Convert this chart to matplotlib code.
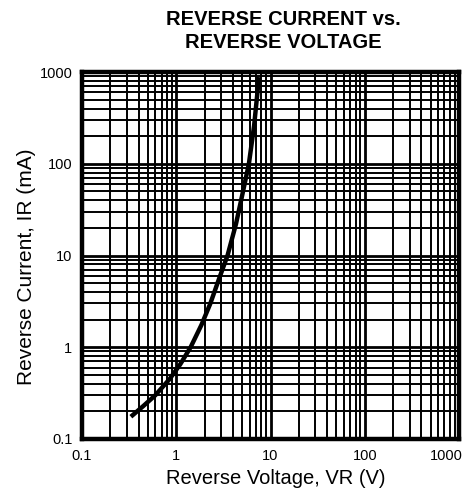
import numpy as np
import matplotlib
matplotlib.use("Agg")
import matplotlib.pyplot as plt
import matplotlib.transforms as mtransforms
from matplotlib.ticker import FixedLocator, NullFormatter

plt.rcParams['font.family'] = ['Liberation Sans', 'DejaVu Sans']

# curve (reverse voltage V, reverse current mA)
v_r = [0.33, 0.45, 0.6, 0.85, 1.1, 1.42, 1.85, 2.3, 2.85, 3.5, 4.3, 5.0, 5.9, 6.7, 7.55]
i_r = [0.175, 0.23, 0.3, 0.45, 0.65, 1.0, 1.75, 3.0, 5.6, 10.0, 22.0, 45.0, 100.0, 260.0, 880.0]

x_ticks = [0.1, 1, 10, 100, 1000]
x_labels = ["0.1", "1", "10", "100", "1000"]
y_ticks = [0.1, 1, 10, 100, 1000]
y_labels = ["0.1", "1", "10", "100", "1000"]

W, H = 473, 495
fig = plt.figure(figsize=(W / 100, H / 100), dpi=100)
ax = fig.add_axes([82 / W, 1 - 439 / H, (459 - 82) / W, (439 - 72) / H])

ax.set_xscale('log')
ax.set_yscale('log')
ax.set_xlim(0.1, 1000)
ax.set_ylim(0.1, 1000)

minor = [m * 10.0 ** e for e in range(-1, 3) for m in range(2, 10)]
ax.xaxis.set_minor_locator(FixedLocator(minor))
ax.yaxis.set_minor_locator(FixedLocator(minor))
ax.xaxis.set_minor_formatter(NullFormatter())
ax.yaxis.set_minor_formatter(NullFormatter())
ax.set_xticks(x_ticks)
ax.set_xticklabels(x_labels)
ax.set_yticks(y_ticks)
ax.set_yticklabels(y_labels)

ax.grid(which='major', color='black', linewidth=2.0)
ax.grid(which='minor', color='black', linewidth=1.4)
ax.tick_params(which='both', length=0, labelsize=10.5)
ax.tick_params(axis='x', pad=7)
ax.tick_params(axis='y', pad=7)
for s in ax.spines.values():
    s.set_linewidth(3.2)

# last x label sits left of its gridline in the reference
last = ax.get_xticklabels()[-1]
last.set_horizontalalignment('right')
last.set_transform(last.get_transform() + mtransforms.ScaledTranslation(4 / 100, 0, fig.dpi_scale_trans))

ax.plot(v_r, i_r, color='black', linewidth=3.2, solid_capstyle='butt')

ax.set_xlabel("Reverse Voltage, VR (V)", fontsize=14.5, va='center')
ax.xaxis.set_label_coords((276 - 82) / 377, (439 - 479) / 367)
ax.set_ylabel("Reverse Current, IR (mA)", fontsize=15, va='center')
ax.yaxis.set_label_coords((26.5 - 82) / 377, (439 - 266.5) / 367)

fig.text(283 / W, 1 - 19.5 / H, "REVERSE CURRENT vs.", ha='center', va='center',
         fontsize=14.5, fontweight='bold')
fig.text(283 / W, 1 - 42.5 / H, "REVERSE VOLTAGE", ha='center', va='center',
         fontsize=14.5, fontweight='bold')

fig.savefig("out.png", dpi=100)
